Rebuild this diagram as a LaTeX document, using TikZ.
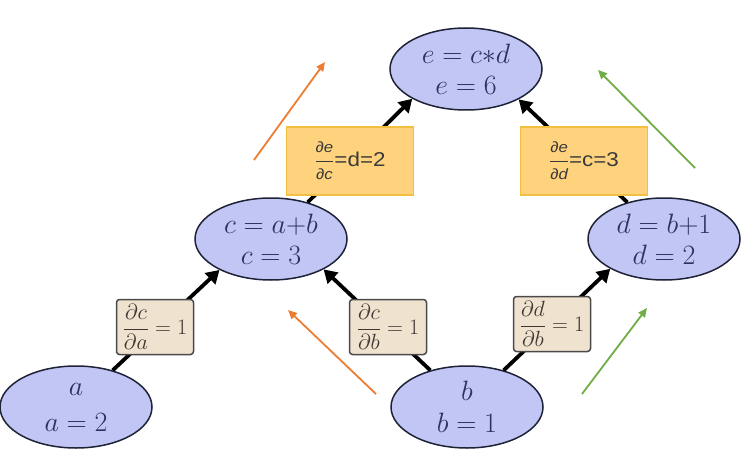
\documentclass[tikz,border=0pt]{standalone}
\usepackage{fix-cm}
\usepackage{fontspec}
\usepackage{amsmath}
\usetikzlibrary{shapes.geometric,arrows.meta}
\newfontfamily\obfont[FakeStretch=1.12]{Liberation Sans}
\definecolor{ellfill}{HTML}{C2C6F4}
\definecolor{ellborder}{HTML}{1E2236}
\definecolor{elltext}{HTML}{2C3160}
\definecolor{tanfill}{HTML}{EFE2CF}
\definecolor{tanborder}{HTML}{4A4A4A}
\definecolor{tantext}{HTML}{3E3630}
\definecolor{orfill}{HTML}{FFD37D}
\definecolor{orborder}{HTML}{F2C040}
\definecolor{ortext}{HTML}{3A3A3A}
\definecolor{gradorange}{HTML}{ED7D31}
\definecolor{gradgreen}{HTML}{70AD47}
\begin{document}
\begin{tikzpicture}[x=1pt,y=-1pt,
  val/.style={ellipse,draw=ellborder,line width=1.5pt,fill=ellfill,minimum width=152pt,minimum height=82pt,inner sep=0pt,align=center,text=elltext,font=\fontsize{28}{31}\selectfont},
  tanbox/.style={draw=tanborder,line width=1.5pt,fill=tanfill,rounded corners=3pt,minimum width=77pt,minimum height=55pt,inner sep=0pt,font=\fontsize{22}{24}\selectfont,text=tantext},
  orbox/.style={draw=orborder,line width=1.2pt,fill=orfill,minimum width=127pt,minimum height=68pt,inner sep=0pt,text=ortext,font=\fontsize{20}{22}\selectfont},
  fwd/.style={line width=3.8pt,-{Triangle[length=13pt,width=15pt]}},
  grad/.style={line width=1.8pt,-{Triangle[length=9pt,width=8pt]}}]
\fill[white] (0,0) rectangle (754,457);
\useasboundingbox (0,0) rectangle (754,457);
% value nodes
\node[val] (e) at (466,69) {$e=c{\ast}d$\\$e=6$};
\node[val] (c) at (271,239) {$c=a{+}b$\\$c=3$};
\node[val] (d) at (664,239) {$d=b{+}1$\\$d=2$};
\node[val,font=\fontsize{28}{36}\selectfont] (a) at (76,407) {$a$\\$a=2$};
\node[val,font=\fontsize{28}{32}\selectfont] (b) at (467,407) {$b$\\$b=1$};
% forward connectors
\draw[fwd] (a.45) -- (c.211);
\draw[fwd] (b.135) -- (c.330);
\draw[fwd] (b.45) -- (d.209);
\draw[fwd] (c.45) -- (e.209);
\draw[fwd] (d.135) -- (e.330);
% local derivative boxes
\node[tanbox] (dcda) at (155,327) {$\dfrac{\partial c}{\partial a}=1$};
\node[tanbox] (dcdb) at (388,327) {$\dfrac{\partial c}{\partial b}=1$};
\node[tanbox] (dddb) at (552,324) {$\dfrac{\partial d}{\partial b}=1$};
\node[orbox] (dedc) at (350,161) {$\dfrac{\hbox{\obfont\itshape\fontsize{15}{15}\selectfont ∂e}}{\hbox{\obfont\itshape\fontsize{15}{15}\selectfont ∂c}}$\hbox{\obfont\fontsize{20}{20}\selectfont =d=2}};
\node[orbox] (dedd) at (584,161) {$\dfrac{\hbox{\obfont\itshape\fontsize{15}{15}\selectfont ∂e}}{\hbox{\obfont\itshape\fontsize{15}{15}\selectfont ∂d}}$\hbox{\obfont\fontsize{20}{20}\selectfont =c=3}};
% gradient flow arrows
\coordinate (o1s) at (254,160); \coordinate (o1e) at (325,62);
\coordinate (o2s) at (376,394); \coordinate (o2e) at (288,310);
\coordinate (g1s) at (695,168); \coordinate (g1e) at (598,70);
\coordinate (g2s) at (582,394); \coordinate (g2e) at (647,308);
\draw[grad,draw=gradorange,fill=gradorange] (o1s) -- (o1e);
\draw[grad,draw=gradorange,fill=gradorange] (o2s) -- (o2e);
\draw[grad,draw=gradgreen,fill=gradgreen] (g1s) -- (g1e);
\draw[grad,draw=gradgreen,fill=gradgreen] (g2s) -- (g2e);
\end{tikzpicture}
\end{document}
